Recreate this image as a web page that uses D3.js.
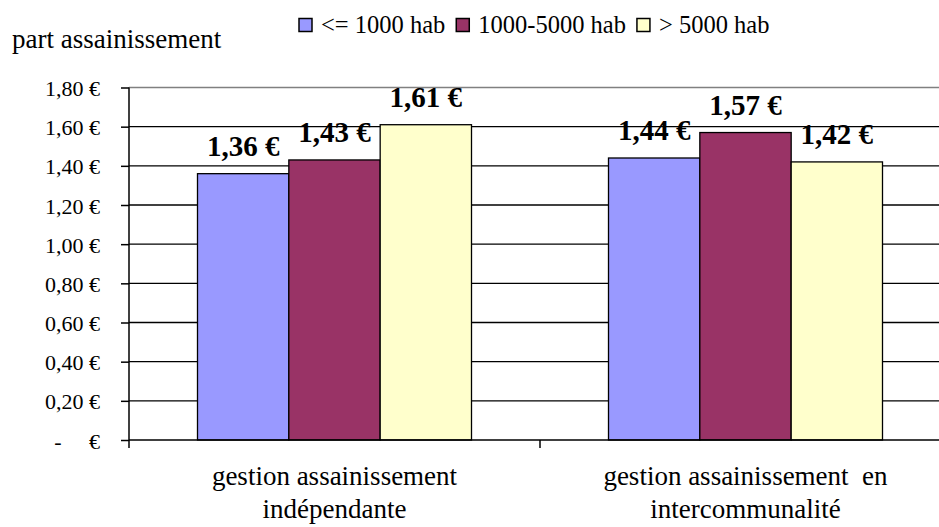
<!DOCTYPE html>
<html>
<head>
<meta charset="utf-8">
<script src="https://cdn.jsdelivr.net/npm/d3@7"></script>
<style>
  html, body { margin: 0; padding: 0; background: #fff; }
  svg { display: block; }
  svg text, svg tspan { font-family: "Liberation Serif", "Times New Roman", serif; fill: #000; white-space: pre; }
</style>
</head>
<body>
<svg id="chart" width="939" height="527"></svg>
<script>
// ---- data ----
const categories = [
  ["gestion assainissement", "indépendante"],
  ["gestion assainissement  en", "intercommunalité"]
];
const series = ["<= 1000 hab", "1000-5000 hab", "> 5000 hab"];
const seriesColors = ["#9999FF", "#993366", "#FFFFCC"];
const values = [
  [1.36, 1.43, 1.61],
  [1.44, 1.57, 1.42]
];
const valueLabels = [
  ["1,36 €", "1,43 €", "1,61 €"],
  ["1,44 €", "1,57 €", "1,42 €"]
];
const tickValues = [0, 0.2, 0.4, 0.6, 0.8, 1.0, 1.2, 1.4, 1.6, 1.8];
const tickLabels = ["-     €", "0,20 €", "0,40 €", "0,60 €", "0,80 €", "1,00 €", "1,20 €", "1,40 €", "1,60 €", "1,80 €"];
const yTitle = "part assainissement";

// ---- layout ----
const svg = d3.select("#chart");
const pLeft = 129, pRight = 951, pTop = 87.5, pBottom = 440;

const x0 = d3.scaleBand().domain(d3.range(categories.length)).range([pLeft, pRight]).padding(0);
const bw = x0.bandwidth();
const gap = bw * 0.75 / 4.5;
const x1 = d3.scaleBand().domain(d3.range(series.length)).range([gap, bw - gap]).padding(0);
const y = d3.scaleLinear().domain([0, 1.8]).range([pBottom, pTop]);

function label(sel, x, yy, str, size, opts = {}) {
  const t = sel.append("text")
    .attr("font-size", size)
    .attr("text-anchor", opts.anchor || "start");
  if (opts.bold) t.attr("font-weight", "bold");
  t.append("tspan").attr("x", x).attr("y", yy).text(str);
  return t;
}

// gridlines
svg.append("g").selectAll("line")
  .data(tickValues.filter(v => v > 0 && v < 1.8))
  .join("line")
  .attr("x1", pLeft).attr("x2", pRight)
  .attr("y1", d => y(d)).attr("y2", d => y(d))
  .attr("stroke", "#000").attr("stroke-width", 1.3);

// plot area top border (gray)
svg.append("line")
  .attr("x1", pLeft).attr("x2", pRight)
  .attr("y1", y(1.8)).attr("y2", y(1.8))
  .attr("stroke", "#808080").attr("stroke-width", 1.5);

// bars
const groups = svg.append("g").selectAll("g")
  .data(values)
  .join("g")
  .attr("transform", (d, i) => `translate(${x0(i)},0)`);

groups.selectAll("rect")
  .data(d => d)
  .join("rect")
  .attr("x", (d, j) => x1(j))
  .attr("width", x1.bandwidth())
  .attr("y", d => y(d))
  .attr("height", d => y(0) - y(d))
  .attr("fill", (d, j) => seriesColors[j])
  .attr("stroke", "#000")
  .attr("stroke-width", 1.3);

// y axis
const yAxis = d3.axisLeft(y)
  .tickValues(tickValues)
  .tickFormat("")
  .tickSize(8);
const yg = svg.append("g").attr("transform", `translate(${pLeft},0)`).call(yAxis);
yg.select(".domain").remove();
yg.selectAll(".tick line").attr("stroke", "#000").attr("stroke-width", 1.5);
yg.selectAll(".tick text").remove();
yg.selectAll(".tick").each(function (d, i) {
  label(d3.select(this), -29, 8, tickLabels[i], 22, { anchor: "end" });
});
svg.append("line")
  .attr("x1", pLeft).attr("x2", pLeft)
  .attr("y1", pTop).attr("y2", pBottom + 8)
  .attr("stroke", "#000").attr("stroke-width", 1.5);

// x axis
svg.append("line")
  .attr("x1", pLeft).attr("x2", pRight)
  .attr("y1", pBottom).attr("y2", pBottom)
  .attr("stroke", "#000").attr("stroke-width", 1.5);
svg.append("g").selectAll("line")
  .data(d3.range(1, categories.length))
  .join("line")
  .attr("x1", d => x0(d)).attr("x2", d => x0(d))
  .attr("y1", pBottom).attr("y2", pBottom + 8)
  .attr("stroke", "#000").attr("stroke-width", 1.5);

// category labels
const catG = svg.append("g").selectAll("text")
  .data(categories)
  .join("text")
  .attr("text-anchor", "middle")
  .attr("font-size", 27);
catG.selectAll("tspan")
  .data((d, i) => d.map(s => ({ s, i })))
  .join("tspan")
  .attr("x", d => x0(d.i) + bw / 2)
  .attr("y", (d, k) => 485 + k * 33)
  .text(d => d.s);

// data labels
groups.each(function (row, i) {
  const g = d3.select(this);
  row.forEach((v, j) => {
    label(g, x1(j) + x1.bandwidth() / 2, y(v) - 18, valueLabels[i][j], 29, { anchor: "middle", bold: true });
  });
});

// y title
label(svg, 12, 48, yTitle, 27);

// legend
const legend = svg.append("g");
let lx = 299;
series.forEach((s, i) => {
  legend.append("rect")
    .attr("x", lx).attr("y", 18.5)
    .attr("width", 13).attr("height", 13)
    .attr("fill", seriesColors[i])
    .attr("stroke", "#000").attr("stroke-width", 1.5);
  const t = label(legend, lx + 22, 33, s, 24.5);
  lx = lx + 22 + t.node().getComputedTextLength() + 11;
});
</script>
</body>
</html>
